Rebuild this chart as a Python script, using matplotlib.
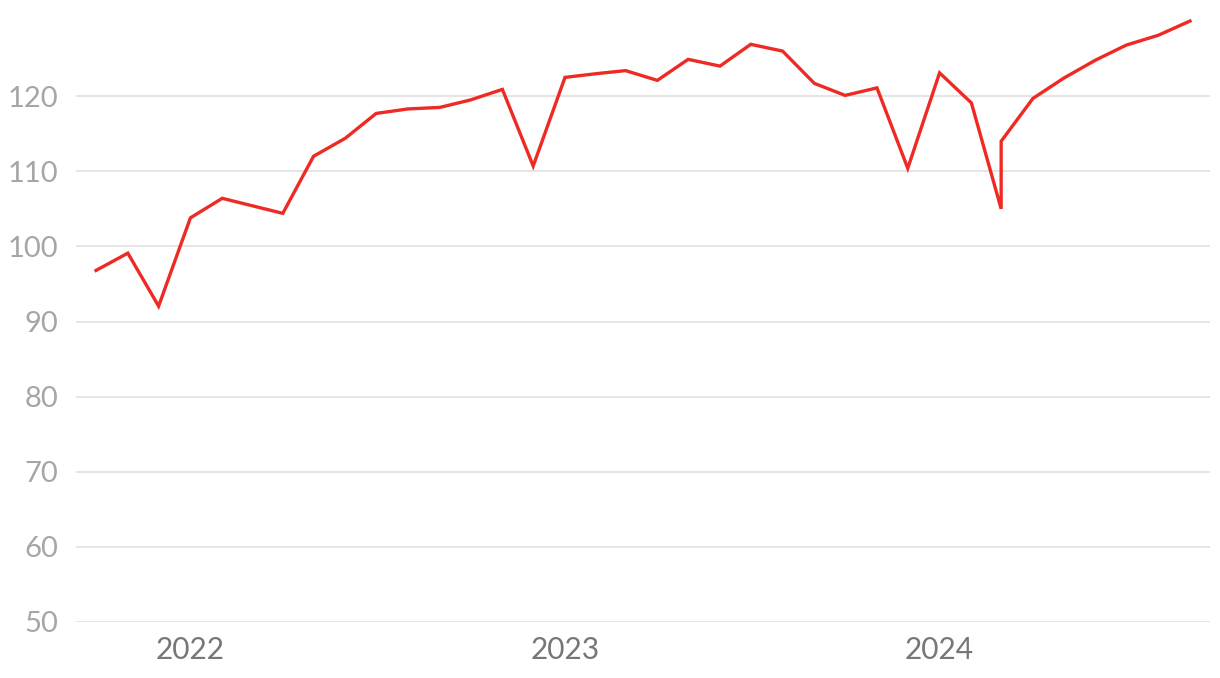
import matplotlib
matplotlib.use("Agg")
import matplotlib.pyplot as plt
import pandas as pd

dates = ["2021-10-01", "2021-11-01", "2021-12-01", "2022-01-01", "2022-02-01",
         "2022-04-01", "2022-05-01", "2022-06-01", "2022-07-01", "2022-08-01",
         "2022-09-01", "2022-10-01", "2022-11-01", "2022-12-01", "2023-01-01",
         "2023-02-01", "2023-03-01", "2023-04-01", "2023-05-01", "2023-06-01",
         "2023-07-01", "2023-08-01", "2023-09-01", "2023-10-01", "2023-11-01",
         "2023-12-01", "2024-01-01", "2024-02-01", "2024-03-01", "2024-03-01",
         "2024-04-01", "2024-05-01", "2024-06-01", "2024-07-01", "2024-08-01",
         "2024-09-01"]
values = [96.8, 99.1, 92.05, 103.8, 106.4,
          104.4, 112.0, 114.4, 117.7, 118.3,
          118.5, 119.5, 120.9, 110.7, 122.5,
          123.0, 123.4, 122.1, 124.9, 124.0,
          126.9, 126.0, 121.7, 120.1, 121.1,
          110.4, 123.1, 119.1, 105.0, 114.0,
          119.7, 122.4, 124.8, 126.8, 128.1,
          130.0]
y_ticks = [50, 60, 70, 80, 90, 100, 110, 120]
x_tick_dates = ["2022-01-01", "2023-01-01", "2024-01-01"]
x_tick_labels = ["2022", "2023", "2024"]

plt.rcParams['font.family'] = ['Lato', 'DejaVu Sans']

x = pd.to_datetime(dates)
fig = plt.figure(figsize=(12.2, 6.78), dpi=100)
ax = fig.add_axes([76/1220, 56/678, (1210-76)/1220, 622/678])

ax.plot(x, values, color="#ee2a24", lw=2.4, solid_joinstyle="miter", zorder=3)

ax.set_ylim(50, 132.8)
ax.set_xlim(pd.Timestamp("2021-10-01") - pd.Timedelta(days=19.5),
            pd.Timestamp("2024-09-01") + pd.Timedelta(days=19.5))
ax.set_yticks(y_ticks)
ax.set_xticks(pd.to_datetime(x_tick_dates))
ax.set_xticklabels(x_tick_labels)
ax.grid(axis="y", color="#e3e3e3", lw=1.3)
ax.set_axisbelow(True)
for s in ax.spines.values():
    s.set_visible(False)
ax.tick_params(axis="y", length=0, pad=13, labelsize=21, labelcolor="#a6a6a6")
ax.tick_params(axis="x", length=0, pad=10, labelsize=21.5, labelcolor="#777777")

fig.savefig("out.png", dpi=100)
